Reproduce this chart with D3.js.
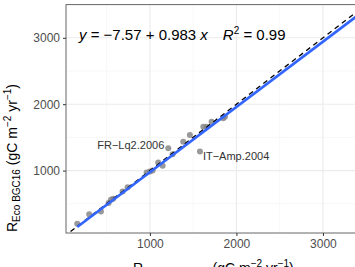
<!DOCTYPE html>
<html>
<head>
<meta charset="utf-8">
<script src="https://cdn.jsdelivr.net/npm/d3@7"></script>
<style>
  body { margin: 0; background: #fff; }
  text { font-family: "Liberation Sans", Arial, sans-serif; }
</style>
</head>
<body>
<svg id="fig" width="355" height="267"></svg>
<script>
// observed (x) vs modelled (y) ecosystem respiration, gC m-2 yr-1
const obs = [160, 298, 434, 522, 549, 575, 684, 742, 962, 1000, 1031, 1096, 1147, 1212, 1262, 1385, 1462, 1578, 1617, 1655, 1713, 1848, 1867]
const mod = [200, 344, 384, 510, 559, 575, 684, 750, 970, 985, 1000, 1120, 1071, 1337, 1247, 1436, 1537, 1286, 1662, 1662, 1737, 1788, 1812]
const site = ["", "", "", "", "", "", "", "", "", "", "", "", "", "FR\u2212Lq2.2006", "", "", "", "IT\u2212Amp.2004", "", "", "", "", ""]
const majorTicks = [1000, 2000, 3000]
const minorTicks = [500, 1500, 2500, 3500]
const intercept = -7.57, slope = 0.983

const data = obs.map((d, i) => ({x: d, y: mod[i], label: site[i]}))

const Fig = d3.select("#fig")
const pLeft = 66, pRight = 366.2, pTop = 4.6, pBottom = 233

const xScale = d3.scaleLinear().domain([30, 3500]).range([pLeft, pRight])
const yScale = d3.scaleLinear().domain([60, 3500]).range([pBottom, pTop])

// clip for panel
Fig.append("clipPath").attr("id", "panel")
    .append("rect").attr("x", pLeft).attr("y", pTop)
    .attr("width", pRight - pLeft).attr("height", pBottom - pTop)

const grid = Fig.append("g").attr("clip-path", "url(#panel)")
// minor grid
grid.selectAll(".vmin").data(minorTicks).join("line")
    .attr("x1", d => xScale(d)).attr("x2", d => xScale(d))
    .attr("y1", pTop).attr("y2", pBottom)
    .attr("stroke", "#f2f2f2").attr("stroke-width", 0.6)
grid.selectAll(".hmin").data(minorTicks).join("line")
    .attr("y1", d => yScale(d)).attr("y2", d => yScale(d))
    .attr("x1", pLeft).attr("x2", pRight)
    .attr("stroke", "#f2f2f2").attr("stroke-width", 0.6)
// major grid
grid.selectAll(".vmaj").data(majorTicks).join("line")
    .attr("x1", d => xScale(d)).attr("x2", d => xScale(d))
    .attr("y1", pTop).attr("y2", pBottom)
    .attr("stroke", "#ebebeb").attr("stroke-width", 1.1)
grid.selectAll(".hmaj").data(majorTicks).join("line")
    .attr("y1", d => yScale(d)).attr("y2", d => yScale(d))
    .attr("x1", pLeft).attr("x2", pRight)
    .attr("stroke", "#ebebeb").attr("stroke-width", 1.1)

const plot = Fig.append("g").attr("clip-path", "url(#panel)")

// points
plot.selectAll(".markers").data(data).join("circle")
    .attr("cx", d => xScale(d.x)).attr("cy", d => yScale(d.y))
    .attr("r", 3).attr("fill", "#808080").attr("fill-opacity", 0.8)

// 1:1 line
plot.append("line")
    .attr("x1", xScale(0)).attr("y1", yScale(0))
    .attr("x2", xScale(3600)).attr("y2", yScale(3600))
    .attr("stroke", "black").attr("stroke-width", 1.3)
    .attr("stroke-dasharray", "5,4")

// regression line
const x0 = d3.min(obs), x1 = 3600
plot.append("line")
    .attr("x1", xScale(x0)).attr("y1", yScale(intercept + slope * x0))
    .attr("x2", xScale(x1)).attr("y2", yScale(intercept + slope * x1))
    .attr("stroke", "#3366FF").attr("stroke-width", 2.6)

// labels
plot.selectAll(".lab").data(data.filter(d => d.label !== "")).join("text")
    .attr("x", d => xScale(d.x) + (d.label.startsWith("FR") ? -4 : 3))
    .attr("y", d => yScale(d.y) + (d.label.startsWith("FR") ? 1 : 8))
    .attr("text-anchor", d => d.label.startsWith("FR") ? "end" : "start")
    .attr("font-size", 11).attr("fill", "#333")
    .text(d => d.label)

// panel border
Fig.append("rect").attr("x", pLeft).attr("y", pTop)
    .attr("width", pRight - pLeft).attr("height", pBottom - pTop)
    .attr("fill", "none").attr("stroke", "#666").attr("stroke-width", 1)

// axes
const x_axis = d3.axisBottom(xScale).tickValues(majorTicks).tickFormat(d3.format("d")).tickSize(3).tickPadding(3)
const y_axis = d3.axisLeft(yScale).tickValues(majorTicks).tickFormat(d3.format("d")).tickSize(3).tickPadding(3)
const gx = Fig.append("g").attr("transform", `translate(0,${pBottom})`).call(x_axis)
const gy = Fig.append("g").attr("transform", `translate(${pLeft},0)`).call(y_axis)
for (const g of [gx, gy]) {
    g.select(".domain").remove()
    g.selectAll(".tick line").attr("stroke", "#333")
    g.selectAll(".tick text").attr("fill", "#4d4d4d").attr("font-size", 12)
        .attr("font-family", "Liberation Sans, Arial, sans-serif")
}

// equation
const eq = Fig.append("text").attr("x", 79).attr("y", 40)
    .attr("font-size", 15).attr("fill", "black")
eq.append("tspan").attr("font-style", "italic").text("y")
eq.append("tspan").text(" = \u22127.57 + 0.983 ")
eq.append("tspan").attr("font-style", "italic").text("x")
eq.append("tspan").attr("dx", 15).attr("font-style", "italic").text("R")
eq.append("tspan").attr("font-size", 10).attr("dy", -6).text("2")
eq.append("tspan").attr("dy", 6).text(" = 0.99")

// y title
const yt = Fig.append("text")
    .attr("transform", "translate(17,232) rotate(-90)")
    .attr("font-size", 14).attr("fill", "black")
yt.append("tspan").text("R")
yt.append("tspan").attr("font-size", 10).attr("dy", 3).text("Eco BGC16")
yt.append("tspan").attr("dy", -3).text(" (gC m")
yt.append("tspan").attr("font-size", 10).attr("dy", -6).text("\u22122")
yt.append("tspan").attr("dy", 6).text(" yr")
yt.append("tspan").attr("font-size", 10).attr("dy", -6).text("\u22121")
yt.append("tspan").attr("dy", 6).text(")")

// x title (lower part falls below the picture, as in the reference)
const xt = Fig.append("text").attr("x", 133).attr("y", 273)
    .attr("font-size", 14).attr("fill", "black")
xt.append("tspan").text("R")
xt.append("tspan").attr("font-size", 10).attr("dy", 3).text("Eco FLUXNET")
xt.append("tspan").attr("dy", -3).text(" (gC m")
xt.append("tspan").attr("font-size", 10).attr("dy", -6).text("\u22122")
xt.append("tspan").attr("dy", 6).text(" yr")
xt.append("tspan").attr("font-size", 10).attr("dy", -6).text("\u22121")
xt.append("tspan").attr("dy", 6).text(")")
</script>
</body>
</html>
